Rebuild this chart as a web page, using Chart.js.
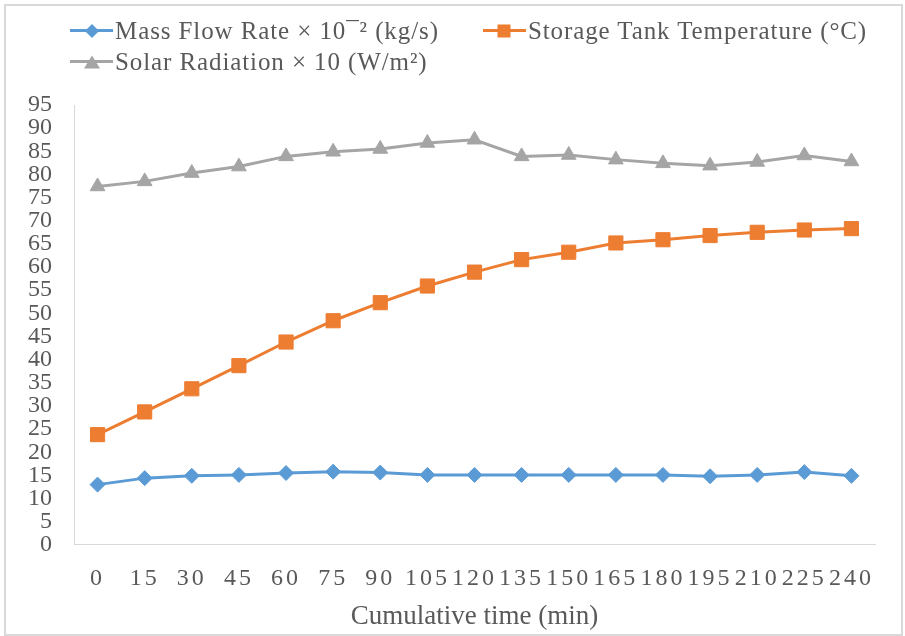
<!DOCTYPE html>
<html>
<head>
<meta charset="utf-8">
<title>Cumulative time chart</title>
<script src="https://cdn.jsdelivr.net/npm/chart.js@4.4.1/dist/chart.umd.min.js"></script>
<style>
    html, body { margin: 0; padding: 0; background: #fff; }
    #wrap { position: relative; width: 905px; height: 636px; }
    #frame { position: absolute; left: 4px; top: 4px; width: 895px; height: 628px; border: 2px solid #d9d9d9; pointer-events: none; }
    #legend {
        position: absolute; left: 70px; top: 15px; width: 820px;
        display: flex; flex-wrap: wrap; column-gap: 44px;
        font-family: "Liberation Serif", serif; font-size: 25px; letter-spacing: 0.9px;
        color: #595959; line-height: 31px;
    }
    .item { display: flex; align-items: center; white-space: nowrap; }
    .mark { position: relative; width: 43px; height: 31px; margin-right: 2px; }
    .mark .ln { position: absolute; left: 0; right: 0; top: 14px; height: 3px; }
    .mark .pt { position: absolute; left: 50%; top: 50%; transform: translate(-50%, -50%); }
    .pt.rectRot { width: 10px; height: 10px; transform: translate(-50%, -50%) rotate(45deg); }
    .pt.rect { width: 13px; height: 13px; }
    .pt.triangle { width: 0; height: 0; border-left: 8px solid transparent; border-right: 8px solid transparent; border-bottom-width: 13px; border-bottom-style: solid; background: none !important; }
</style>
</head>
<body>
<div id="wrap">
    <canvas id="timeChart" width="905" height="636"></canvas>
    <div id="legend"></div>
    <div id="frame"></div>
</div>
<script>
// x categories (min)
const timeLabels = [0, 15, 30, 45, 60, 75, 90, 105, 120, 135, 150, 165, 180, 195, 210, 225, 240];

// series values
const massFlow = [13.0, 14.4, 14.9, 15.1, 15.5, 15.8, 15.6, 15.1, 15.1, 15.1, 15.1, 15.1, 15.1, 14.8, 15.1, 15.7, 14.9];
const tankTemp = [23.8, 28.7, 33.7, 38.7, 43.8, 48.4, 52.3, 55.9, 58.9, 61.6, 63.2, 65.2, 65.9, 66.8, 67.5, 68.0, 68.3];
const solarRad = [77.4, 78.5, 80.3, 81.7, 83.9, 84.9, 85.5, 86.8, 87.5, 83.9, 84.2, 83.2, 82.4, 81.9, 82.7, 84.1, 82.8];

const seriesNames = [
    'Mass Flow Rate × 10¯² (kg/s)',
    'Storage Tank Temperature (°C)',
    'Solar Radiation × 10 (W/m²)'
];

const textColor = '#595959';
const axisColor = '#d9d9d9';

function makeSeries(label, data, color, style, radius) {
    return {
        label: label,
        data: data,
        borderColor: color,
        backgroundColor: color,
        borderWidth: 3,
        pointStyle: style,
        pointRadius: radius,
        pointHoverRadius: radius,
        pointBorderWidth: 1,
        pointBackgroundColor: color,
        pointBorderColor: color,
        tension: 0,
        fill: false
    };
}

// the x tick labels in the picture are spread out so they almost touch
const wideXLabels = {
    id: 'wideXLabels',
    afterLayout(chart) {
        const scale = chart.scales.x;
        if (scale._wide) return;
        const orig = scale.drawLabels;
        scale.drawLabels = function(area) {
            const c = this.ctx;
            c.save();
            c.letterSpacing = '3px';
            orig.call(this, area);
            c.restore();
        };
        scale._wide = true;
    }
};

// legend drawn as html so the rows line up like the original
const htmlLegend = {
    id: 'htmlLegend',
    afterUpdate(chart) {
        const box = document.getElementById('legend');
        box.innerHTML = '';
        chart.data.datasets.forEach(ds => {
            const item = document.createElement('div');
            item.className = 'item';
            const mark = document.createElement('span');
            mark.className = 'mark';
            const ln = document.createElement('span');
            ln.className = 'ln';
            ln.style.background = ds.borderColor;
            const pt = document.createElement('span');
            pt.className = 'pt ' + ds.pointStyle;
            if (ds.pointStyle === 'triangle') {
                pt.style.borderBottomColor = ds.borderColor;
            } else {
                pt.style.background = ds.borderColor;
            }
            mark.appendChild(ln);
            mark.appendChild(pt);
            const txt = document.createElement('span');
            txt.textContent = ds.label;
            item.appendChild(mark);
            item.appendChild(txt);
            box.appendChild(item);
        });
    }
};

const ctx = document.getElementById('timeChart').getContext('2d');

new Chart(ctx, {
    type: 'line',
    data: {
        labels: timeLabels.map(String),
        datasets: [
            makeSeries(seriesNames[0], massFlow, '#5b9bd5', 'rectRot', 7.5),
            makeSeries(seriesNames[1], tankTemp, '#ed7d31', 'rect', 10),
            makeSeries(seriesNames[2], solarRad, '#a5a5a5', 'triangle', 8.5)
        ]
    },
    options: {
        responsive: false,
        animation: false,
        layout: {
            padding: { top: 105, right: 30, bottom: 0, left: 6 }
        },
        plugins: {
            legend: { display: false },
            tooltip: { enabled: false }
        },
        scales: {
            x: {
                offset: true,
                grid: { display: false, drawTicks: false },
                border: { display: true, color: axisColor, width: 1 },
                ticks: {
                    color: textColor,
                    padding: 20,
                    autoSkip: false,
                    maxRotation: 0,
                    font: { family: 'Liberation Serif', size: 24 }
                },
                title: {
                    display: true,
                    text: 'Cumulative time (min)',
                    color: textColor,
                    padding: { top: -13, bottom: 3 },
                    font: { family: 'Liberation Serif', size: 27 }
                }
            },
            y: {
                min: 0,
                max: 95,
                grid: { display: false, drawTicks: false },
                border: { display: true, color: axisColor, width: 1 },
                ticks: {
                    stepSize: 5,
                    color: textColor,
                    padding: 22,
                    autoSkip: false,
                    font: { family: 'Liberation Serif', size: 24 }
                }
            }
        }
    },
    plugins: [wideXLabels, htmlLegend]
});
</script>
</body>
</html>
